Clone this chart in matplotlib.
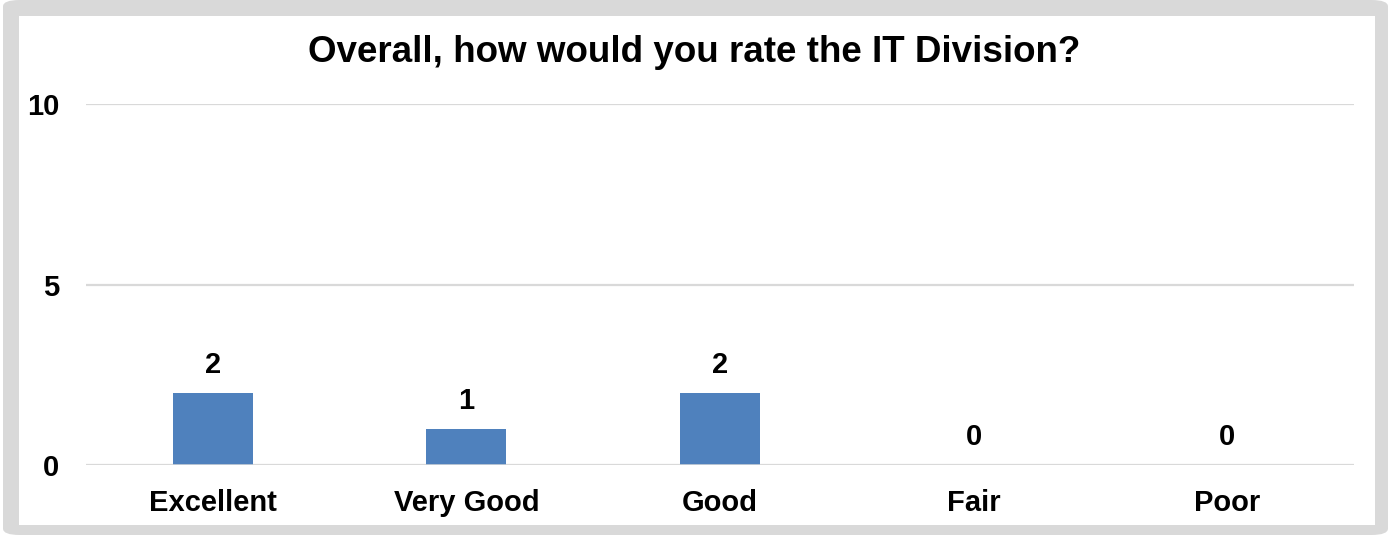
import matplotlib
matplotlib.use("Agg")
import matplotlib.pyplot as plt
from matplotlib.patches import FancyBboxPatch, Rectangle

categories = ["Excellent", "Very Good", "Good", "Fair", "Poor"]
counts = [2, 1, 2, 0, 0]
y_ticks = [0, 5, 10]
title = "Overall, how would you rate the IT Division?"

W, H = 1388, 535
fig = plt.figure(figsize=(W / 100, H / 100), dpi=100)
plt.rcParams["font.family"] = ["Liberation Sans", "DejaVu Sans"]

# grey frame with white panel
fig.patches.append(FancyBboxPatch((3 / W, 0), (W - 3) / W, 1.0,
                                  boxstyle="round,pad=0,rounding_size=0.012",
                                  transform=fig.transFigure, facecolor="#d9d9d9",
                                  edgecolor="none", zorder=0))
fig.patches.append(Rectangle((19 / W, (H - 525) / H), (1375 - 19) / W, (525 - 16) / H,
                             transform=fig.transFigure, facecolor="white",
                             edgecolor="none", zorder=0.5))
fig.patch.set_facecolor("white")

left, right = 86 / W, 1354 / W
bottom, top = (H - 465) / H, (H - 104) / H
ax = fig.add_axes([left, bottom, right - left, top - bottom])
ax.set_facecolor("none")
ax.set_zorder(1)

x = range(len(categories))
bars = ax.bar(x, counts, width=0.315, color="#4f81bd", zorder=2)
ax.set_xlim(-0.5, len(categories) - 0.5)
ax.set_ylim(0, 10)
ax.set_yticks(y_ticks)
ax.set_yticklabels([str(t) for t in y_ticks], fontsize=21, fontweight="bold")
ax.set_xticks(list(x))
ax.set_xticklabels(categories, fontsize=21, fontweight="bold")
ax.tick_params(axis="y", length=0, pad=19)
ax.tick_params(axis="x", length=0, pad=17)
ax.grid(axis="y", color="#d9d9d9", linewidth=1.6, zorder=0)
for s in ax.spines.values():
    s.set_visible(False)
ax.axhline(0, color="#d9d9d9", linewidth=1.8, zorder=3)

for xi, v in zip(x, counts):
    ax.annotate(str(v), (xi, v), xytext=(0, 20), textcoords="offset points",
                ha="center", va="center", fontsize=21, fontweight="bold")

fig.text(0.5, (H - 53) / H, title, ha="center", va="center",
         fontsize=26.5, fontweight="bold")

fig.savefig("out.png", dpi=100)
